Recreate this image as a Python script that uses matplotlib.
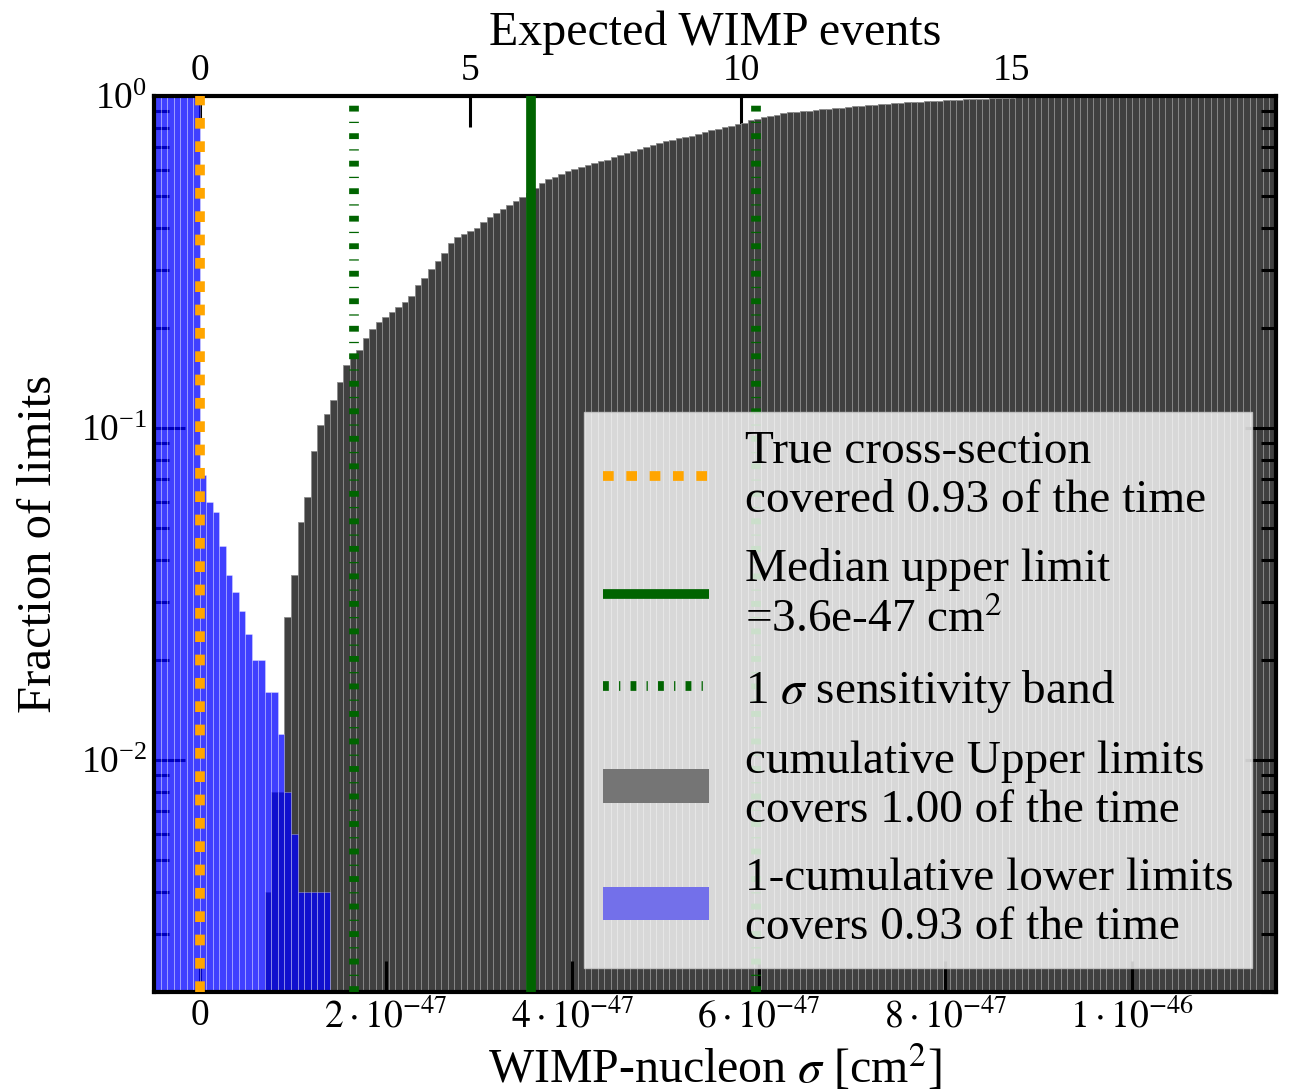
import numpy as np
import matplotlib.pyplot as plt
from matplotlib.lines import Line2D
from matplotlib.patches import Patch

plt.rcParams['font.family'] = 'serif'
plt.rcParams['font.serif'] = ['Liberation Serif', 'DejaVu Serif']
plt.rcParams['mathtext.fontset'] = 'stix'

# histogram binning of the limits [cm^2]
bin_lo = -4.9e-48
bin_width = 7e-49
n_bins = 172

# cumulative fraction of upper limits per bin
upper_frac = [0.0] * 17 + [
    0.004, 0.008, 0.008,
    0.027, 0.036, 0.052, 0.062, 0.085, 0.102, 0.110, 0.121, 0.138,
    0.155, 0.163, 0.172, 0.186, 0.198, 0.208, 0.216, 0.223, 0.231, 0.239,
    0.250, 0.270, 0.283, 0.302, 0.318, 0.336, 0.360, 0.375, 0.385, 0.393,
    0.400, 0.416, 0.432, 0.445, 0.457, 0.468, 0.483, 0.496, 0.510, 0.527,
    0.548, 0.562, 0.572, 0.582, 0.594, 0.604, 0.612, 0.619, 0.627, 0.635,
    0.643, 0.654, 0.665, 0.674, 0.684, 0.694, 0.703, 0.712, 0.721, 0.730,
    0.738, 0.746, 0.753, 0.760, 0.768, 0.778, 0.788, 0.797, 0.806, 0.814,
    0.822, 0.832, 0.845, 0.855, 0.865, 0.872, 0.879, 0.887, 0.892, 0.896,
    0.899, 0.902, 0.906, 0.911, 0.914, 0.918, 0.922, 0.926, 0.930, 0.933,
    0.937, 0.940, 0.944, 0.948, 0.952, 0.955, 0.957, 0.960, 0.962, 0.964,
    0.966, 0.968, 0.971, 0.973, 0.975, 0.977, 0.978, 0.980, 0.982, 0.983,
    0.984, 0.986, 0.988, 0.990, 0.991, 0.992, 0.992, 0.993, 0.994, 0.994,
    0.995, 0.995, 0.996, 0.996, 0.996, 0.996, 0.996, 0.996, 0.996, 0.996,
    0.996, 0.996, 0.996, 0.996, 0.998, 0.998, 0.998, 0.998, 0.998, 0.998,
    0.998, 0.998, 0.998, 0.998, 1.0, 1.0, 1.0, 1.0, 1.0, 1.0, 1.0, 1.0, 1.0]

# 1 - cumulative fraction of lower limits per bin
lower_frac = [1.0] * 7 + [
    0.072, 0.060, 0.056, 0.044, 0.036, 0.032, 0.028, 0.024, 0.020, 0.020,
    0.016, 0.016, 0.012, 0.008, 0.006, 0.004, 0.004, 0.004, 0.004, 0.004] + [0.0] * 145

true_xsec = 0.0
median_upper = 3.56e-47
sens_band = [1.66e-47, 5.97e-47]
events_per_xsec = 1.721e47

xticks = [0, 2e-47, 4e-47, 6e-47, 8e-47, 1e-46]
xticklabels = ['0', r'$2\cdot10^{-47}$', r'$4\cdot10^{-47}$', r'$6\cdot10^{-47}$',
               r'$8\cdot10^{-47}$', r'$1\cdot10^{-46}$']
event_ticks = [0, 5, 10, 15]

edges = bin_lo + bin_width * np.arange(n_bins + 1)
upper_frac = np.array(upper_frac)
lower_frac = np.array(lower_frac)

fig = plt.figure(figsize=(12.9, 10.92), dpi=100)
ax = fig.add_axes([0.1194, 0.0916, 0.8697, 0.8205])

m = upper_frac > 0
ax.bar(edges[:-1][m], upper_frac[m], width=bin_width, align='edge',
       color='#404040', edgecolor='#8c8c8c', linewidth=0.6, zorder=1)
m = lower_frac > 0
ax.bar(edges[:-1][m], lower_frac[m], width=bin_width, align='edge',
       color=(0, 0, 1, 0.75), edgecolor=(1, 1, 1, 0.35), linewidth=0.6, zorder=2)

ax.axvline(true_xsec, color='orange', lw=7, dashes=(1.1, 1.3), zorder=4)
ax.axvline(median_upper, color='darkgreen', lw=7, zorder=4)
for s in sens_band:
    ax.axvline(s, color='darkgreen', lw=7, dashes=(0.6, 1.05, 0.13, 1.05), zorder=3)

ax.set_yscale('log')
ax.set_ylim(2e-3, 1)
ax.set_xlim(edges[0], edges[-1])
ax.set_xticks(xticks, xticklabels)
ax.tick_params(which='both', direction='in', right=True, top=False, width=2.2,
               labelsize=27, pad=5)
ax.tick_params(which='major', length=22)
ax.tick_params(which='minor', length=11)
for sp in ax.spines.values():
    sp.set_linewidth(3)

secax = ax.secondary_xaxis('top', functions=(lambda s: s * events_per_xsec,
                                             lambda e: e / events_per_xsec))
secax.set_xticks(event_ticks)
secax.tick_params(direction='in', length=22, width=2.2, labelsize=27, pad=6)
secax.set_xlabel('Expected WIMP events', fontsize=34.5, labelpad=6)

ax.set_xlabel(r'WIMP-nucleon $\sigma$ [cm$^2$]', fontsize=34.5, labelpad=5)
ax.set_ylabel('Fraction of limits', fontsize=35, labelpad=14)

handles = [
    Line2D([], [], color='orange', lw=7, dashes=(1.1, 1.3)),
    Line2D([], [], color='darkgreen', lw=7, solid_capstyle='butt'),
    Line2D([], [], color='darkgreen', lw=7, dashes=(0.6, 1.05, 0.13, 1.05)),
    Patch(facecolor='#757575'),
    Patch(facecolor='#7370ea'),
]
labels = [
    'True cross-section\ncovered 0.93 of the time',
    'Median upper limit\n=3.6e-47 cm$^2$',
    r'1 $\sigma$ sensitivity band',
    'cumulative Upper limits\ncovers 1.00 of the time',
    '1-cumulative lower limits\ncovers 0.93 of the time',
]
leg = ax.legend(handles, labels, loc='lower right', fontsize=34, fancybox=False,
                handlelength=2.25, handletextpad=0.75, borderaxespad=0.5,
                labelspacing=0.55, borderpad=0.4)
leg.set_zorder(10)

fig.savefig('out.png', dpi=100)
